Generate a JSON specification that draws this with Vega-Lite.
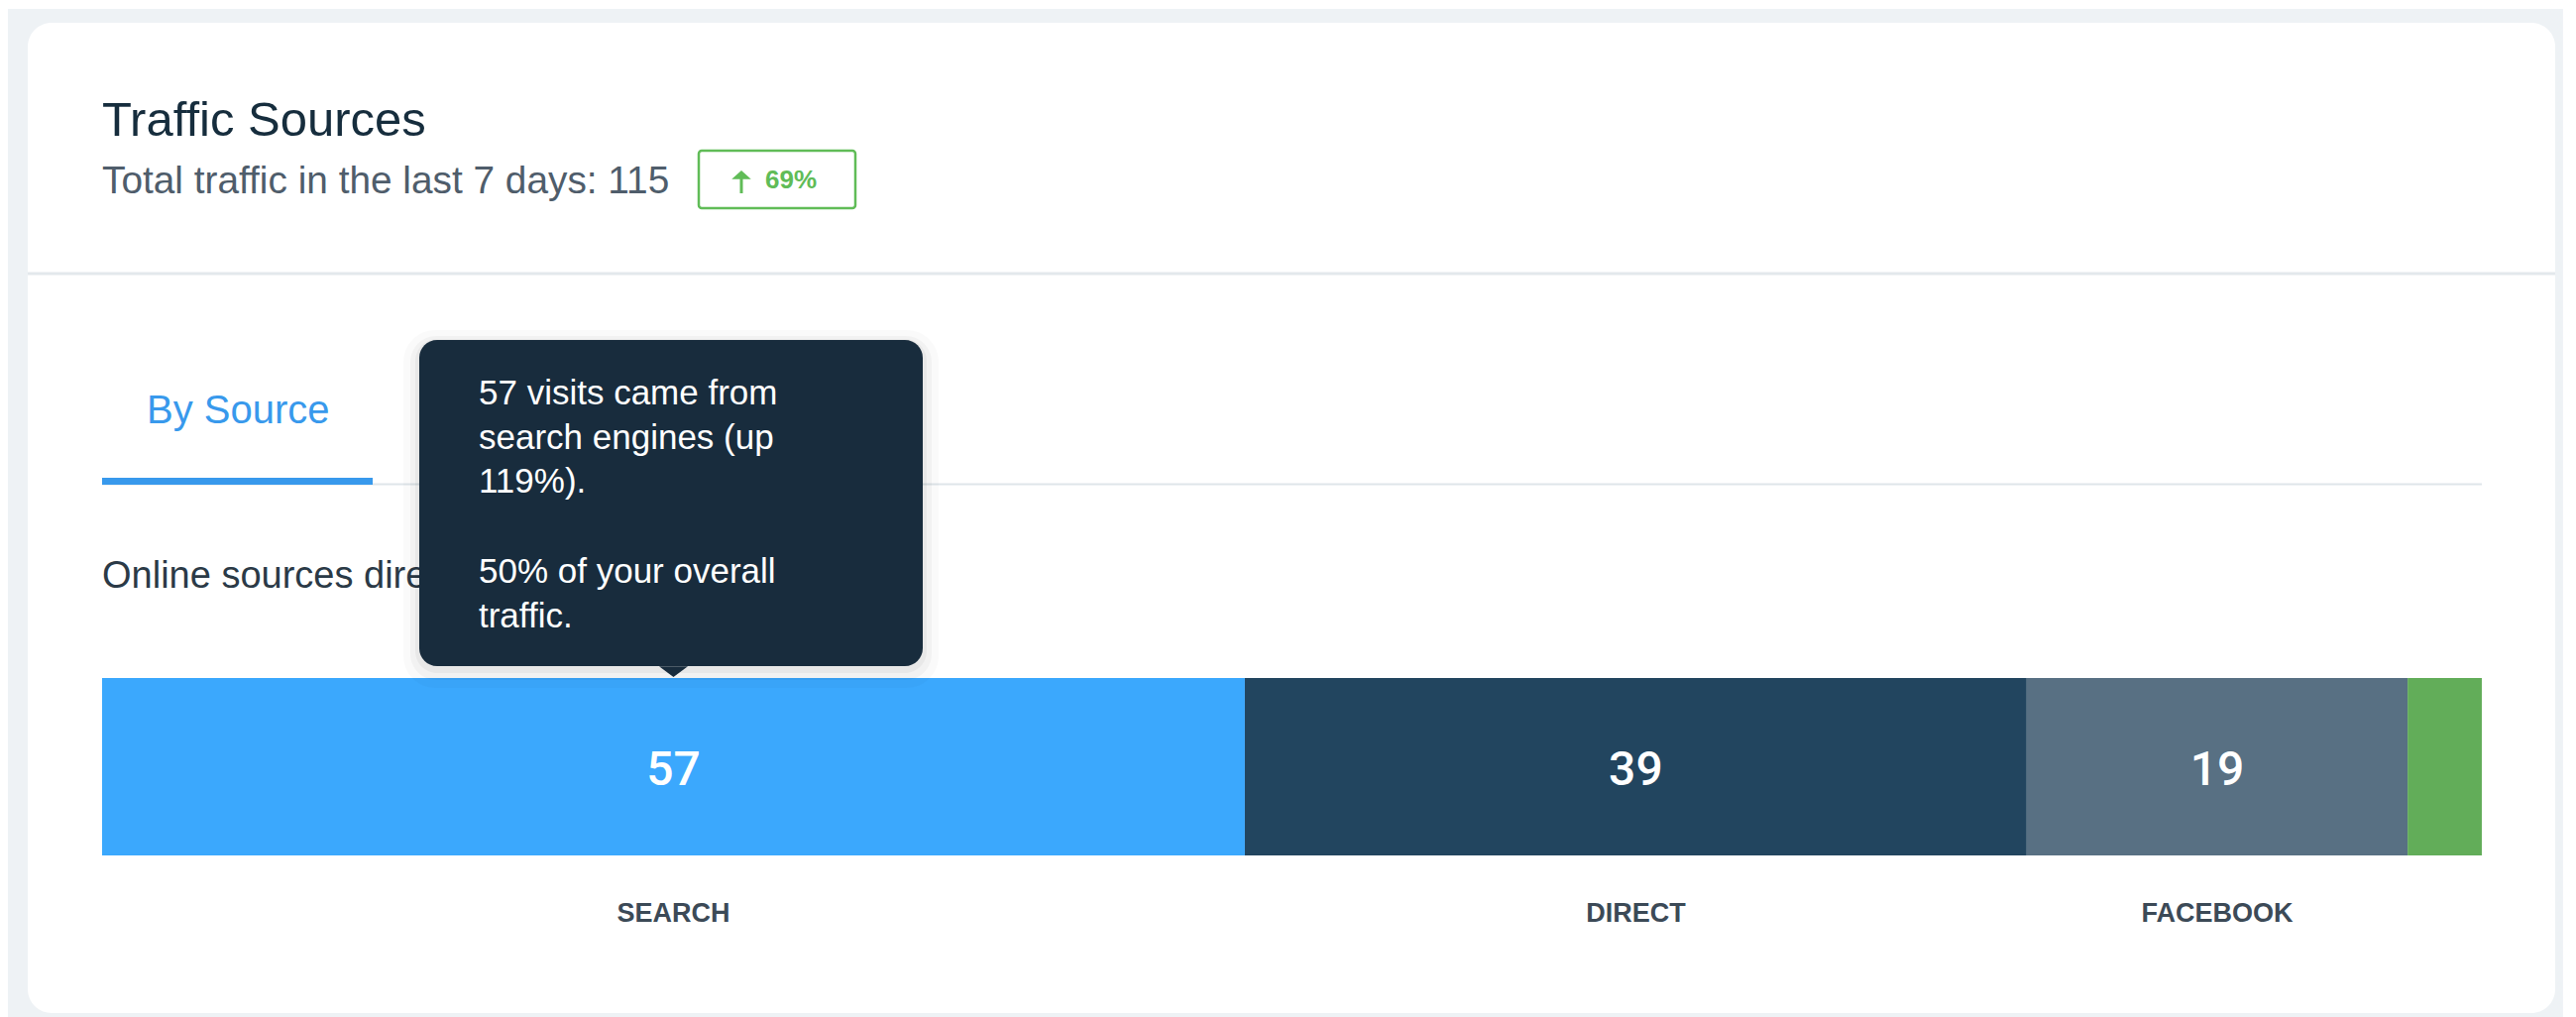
{
  "$schema": "https://vega.github.io/schema/vega-lite/v6.json",
  "autosize": {"type": "none"},
  "padding": {"left": 28, "top": 23, "right": 21, "bottom": 4},
  "width": 2550,
  "height": 999,
  "background": "#ffffff",
  "title": {
    "text": "Traffic Sources",
    "subtitle": "Total traffic in the last 7 days: 115",
    "anchor": "start",
    "frame": "group",
    "orient": "top",
    "offset": -194,
    "dx": 75,
    "font": "Liberation Sans",
    "fontSize": 49,
    "fontWeight": "normal",
    "color": "#162d3d",
    "subtitleFont": "Liberation Sans",
    "subtitleFontSize": 38.8,
    "subtitleColor": "#4f5d6b",
    "subtitlePadding": 17
  },
  "data": {
    "values": [
      {"source": "SEARCH", "visits": 57},
      {"source": "DIRECT", "visits": 39},
      {"source": "FACEBOOK", "visits": 19},
      {"source": "OTHER", "visits": 3.7}
    ]
  },
  "layer": [
    {
      "data": {"values": [{}]},
      "mark": {"type": "rect", "fill": "#eef2f5"},
      "encoding": {
        "x": {"datum": -4.697, "type": "quantitative", "axis": null, "scale": {"domain": [-3.708, 122.36], "nice": false, "zero": false}},
        "x2": {"datum": 122.75},
        "y": {"datum": -14, "type": "quantitative", "axis": null, "scale": {"domain": [0, 999], "reverse": true, "nice": false, "zero": false}},
        "y2": {"datum": 1003}
      }
    },
    {
      "data": {"values": [{}]},
      "mark": {"type": "rect", "fill": "#ffffff", "cornerRadius": 24},
      "encoding": {
        "x": {"datum": -3.708, "type": "quantitative"},
        "x2": {"datum": 122.36},
        "y": {"datum": 0, "type": "quantitative"},
        "y2": {"datum": 999}
      }
    },
    {
      "data": {"values": [{}]},
      "mark": {"type": "rule", "stroke": "#e3e8ec", "strokeWidth": 3},
      "encoding": {
        "x": {"datum": -3.708, "type": "quantitative"},
        "x2": {"datum": 122.36},
        "y": {"datum": 253, "type": "quantitative"}
      }
    },
    {
      "data": {"values": [{}]},
      "mark": {"type": "rect", "fill": "#ffffff", "stroke": "#60bc57", "strokeWidth": 2.5, "cornerRadius": 3},
      "encoding": {
        "x": {"datum": 29.762, "type": "quantitative"},
        "x2": {"datum": 37.573},
        "y": {"datum": 129, "type": "quantitative"},
        "y2": {"datum": 187}
      }
    },
    {
      "data": {"values": [{}]},
      "mark": {"type": "point", "shape": "M0,-1L0.85,-0.25L0.13,-0.25L0.13,1L-0.13,1L-0.13,-0.25L-0.85,-0.25Z", "size": 529, "filled": true, "fill": "#60bc57", "strokeWidth": 0, "opacity": 1},
      "encoding": {
        "x": {"datum": 31.888, "type": "quantitative"},
        "y": {"datum": 160.5, "type": "quantitative"}
      }
    },
    {
      "data": {"values": [{}]},
      "mark": {"type": "text", "text": "69%", "align": "left", "baseline": "alphabetic", "fontSize": 26, "fontWeight": "bold", "color": "#60bc57"},
      "encoding": {
        "x": {"datum": 33.074, "type": "quantitative"},
        "y": {"datum": 167, "type": "quantitative"}
      }
    },
    {
      "data": {"values": [{}]},
      "mark": {"type": "text", "text": "By Source", "align": "left", "baseline": "alphabetic", "fontSize": 40, "color": "#3899ec"},
      "encoding": {
        "x": {"datum": 2.225, "type": "quantitative"},
        "y": {"datum": 404, "type": "quantitative"}
      }
    },
    {
      "data": {"values": [{}]},
      "mark": {"type": "rule", "stroke": "#dfe5ea", "strokeWidth": 2},
      "encoding": {
        "x": {"datum": 0, "type": "quantitative"},
        "x2": {"datum": 118.7},
        "y": {"datum": 465.5, "type": "quantitative"}
      }
    },
    {
      "data": {"values": [{}]},
      "mark": {"type": "rule", "stroke": "#3899ec", "strokeWidth": 7},
      "encoding": {
        "x": {"datum": 0, "type": "quantitative"},
        "x2": {"datum": 13.497},
        "y": {"datum": 462.5, "type": "quantitative"}
      }
    },
    {
      "data": {"values": [{}]},
      "mark": {"type": "text", "text": "Online sources direct", "align": "left", "baseline": "alphabetic", "fontSize": 38, "color": "#2b3a47"},
      "encoding": {
        "x": {"datum": 0, "type": "quantitative"},
        "y": {"datum": 570, "type": "quantitative"}
      }
    },
    {
      "transform": [{"stack": "visits", "groupby": [], "sort": [{"field": "visits", "order": "descending"}], "as": ["v0", "v1"]}],
      "mark": {"type": "rect"},
      "encoding": {
        "x": {"field": "v0", "type": "quantitative"},
        "x2": {"field": "v1"},
        "y": {"datum": 661, "type": "quantitative"},
        "y2": {"datum": 840},
        "color": {"field": "source", "type": "nominal", "legend": null, "scale": {"domain": ["SEARCH", "DIRECT", "FACEBOOK", "OTHER"], "range": ["#3ba8fd", "#22455f", "#587083", "#62ad59"]}}
      }
    },
    {
      "transform": [{"filter": "datum.source != 'OTHER'"}],
      "mark": {"type": "text", "baseline": "alphabetic", "align": "center", "font": "Roboto", "fontSize": 48, "fontWeight": 500, "color": "#ffffff"},
      "encoding": {
        "x": {"field": "visits", "type": "quantitative", "stack": "zero", "bandPosition": 0.5},
        "y": {"datum": 769, "type": "quantitative"},
        "detail": {"field": "source", "type": "nominal"},
        "order": {"field": "visits", "type": "quantitative", "sort": "descending"},
        "text": {"field": "visits", "type": "quantitative"}
      }
    },
    {
      "transform": [{"filter": "datum.source != 'OTHER'"}],
      "mark": {"type": "text", "baseline": "alphabetic", "align": "center", "fontSize": 27, "fontWeight": "bold", "color": "#3c4a57"},
      "encoding": {
        "x": {"field": "visits", "type": "quantitative", "stack": "zero", "bandPosition": 0.5},
        "y": {"datum": 907, "type": "quantitative"},
        "detail": {"field": "source", "type": "nominal"},
        "order": {"field": "visits", "type": "quantitative", "sort": "descending"},
        "text": {"field": "source", "type": "nominal"}
      }
    },
    {
      "data": {"values": [{}]},
      "mark": {"type": "rect", "fill": "#000000", "opacity": 0.02, "cornerRadius": 32},
      "encoding": {
        "x": {"datum": 15.028, "type": "quantitative"},
        "x2": {"datum": 41.726},
        "y": {"datum": 310, "type": "quantitative"},
        "y2": {"datum": 671}
      }
    },
    {
      "data": {"values": [{}]},
      "mark": {"type": "rect", "fill": "#000000", "opacity": 0.03, "cornerRadius": 26},
      "encoding": {
        "x": {"datum": 15.375, "type": "quantitative"},
        "x2": {"datum": 41.380},
        "y": {"datum": 316, "type": "quantitative"},
        "y2": {"datum": 663}
      }
    },
    {
      "data": {"values": [{}]},
      "mark": {"type": "rect", "fill": "#000000", "opacity": 0.04, "cornerRadius": 22},
      "encoding": {
        "x": {"datum": 15.622, "type": "quantitative"},
        "x2": {"datum": 41.132},
        "y": {"datum": 319, "type": "quantitative"},
        "y2": {"datum": 656}
      }
    },
    {
      "data": {"values": [{}]},
      "mark": {"type": "rect", "fill": "#182c3d", "cornerRadius": 18},
      "encoding": {
        "x": {"datum": 15.820, "type": "quantitative"},
        "x2": {"datum": 40.935},
        "y": {"datum": 320, "type": "quantitative"},
        "y2": {"datum": 649}
      }
    },
    {
      "transform": [{"filter": "datum.source == 'SEARCH'"}],
      "mark": {"type": "point", "shape": "M-1,-0.75L1,-0.75L0,0Z", "size": 841, "filled": true, "fill": "#182c3d", "strokeWidth": 0, "opacity": 1},
      "encoding": {
        "x": {"field": "visits", "type": "quantitative", "stack": "zero", "bandPosition": 0.5},
        "y": {"datum": 660, "type": "quantitative"},
        "detail": {"field": "source", "type": "nominal"}
      }
    },
    {
      "data": {"values": [{}]},
      "mark": {"type": "text", "text": ["57 visits came from", "search engines (up", "119%)."], "align": "left", "baseline": "alphabetic", "lineHeight": 44.7, "fontSize": 35, "color": "#ffffff"},
      "encoding": {
        "x": {"datum": 18.786, "type": "quantitative"},
        "y": {"datum": 385, "type": "quantitative"}
      }
    },
    {
      "data": {"values": [{}]},
      "mark": {"type": "text", "text": ["50% of your overall", "traffic."], "align": "left", "baseline": "alphabetic", "lineHeight": 44.7, "fontSize": 35, "color": "#ffffff"},
      "encoding": {
        "x": {"datum": 18.786, "type": "quantitative"},
        "y": {"datum": 565, "type": "quantitative"}
      }
    }
  ],
  "config": {
    "font": "Liberation Sans",
    "view": {"stroke": null},
    "axis": {"disable": true}
  }
}
